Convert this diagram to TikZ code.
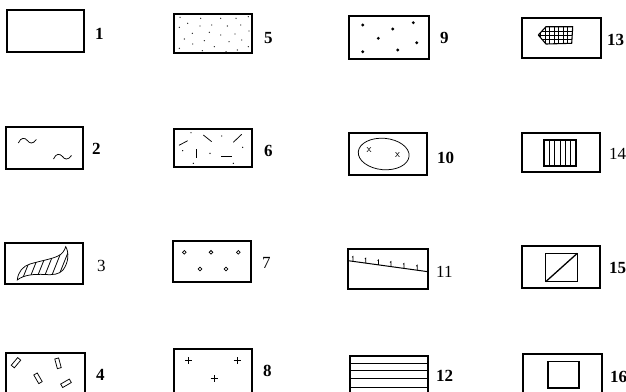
\documentclass[tikz,border=0pt]{standalone}
\usepackage{fontspec}
\setmainfont{Liberation Serif}
\usetikzlibrary{calc}
\begin{document}
\begin{tikzpicture}[x=1pt,y=-1pt,
  box/.style={line width=1.05pt},
  thin/.style={line width=0.75pt},
  lab/.style={anchor=west,inner sep=0pt,font=\fontsize{17}{17}\selectfont\bfseries},
  labr/.style={anchor=west,inner sep=0pt,font=\fontsize{17}{17}\selectfont},
  fdot/.style={fill=black!85},
]
\useasboundingbox (0,0) rectangle (626,391);
\clip (0,0) rectangle (626,391);
% ---------- row 1 ----------
\draw[box] (7,10) rectangle (84,52);
\node[lab] (l1) at (95,34) {1};
\draw[box] (174,14) rectangle (252,53);
\foreach \p in {(180,17.3),(200.7,18.3),(220.7,18.3),(236,18.3),(248.3,16.7),(187.7,23.3),(200,26),(211.7,25),(227.3,26),(240.7,25),(179.3,27.3),(192.3,33.3),(209.3,32.3),(220.7,35),(235,34),(249,31),(184.3,39),(204.3,40.7),(229,41.7),(241.7,40),(192.7,44),(214.3,46.7),(179.3,48.3),(202.3,50.7),(226,51.7),(237.3,50),(248.3,46.7)}
  \fill[fdot] \p circle[radius=0.7];
\node[lab] (l5) at (264,38) {5};
\draw[box] (349,16) rectangle (429,59);
\foreach \p in {(362.7,25),(392.7,29),(413.3,22.7),(378.3,38.3),(416.7,42.7),(362.7,51.7),(397.7,50)}
  \fill \p circle[radius=1.6];
\node[lab] (l9) at (440,38) {9};
\draw[box] (522,18) rectangle (601,58);
\begin{scope}
  \clip (538.3,35) -- (546,26.7) -- (572.7,26.7) -- (571.7,43.3) -- (546,44) -- cycle;
  \foreach \i in {0,...,7} \draw[thin] (536+\i*4.5,20) -- (536+\i*4.5,50);
  \foreach \j in {0,...,5} \draw[thin] (530,26.7+\j*4.3) -- (580,26.7+\j*4.3);
\end{scope}
\draw[line width=1.1pt,line join=round] (538.3,35) -- (546,26.7) -- (572.7,26.7) -- (571.7,43.3) -- (546,44) -- cycle;
\node[lab] (l13) at (607,40) {13};
% ---------- row 2 ----------
\draw[box] (6,127) rectangle (83,169);
\draw[thin] (18.3,143) .. controls (21,137) and (25,137.5) .. (27.3,140.5) .. controls (29.5,143.5) and (33,144.5) .. (36.3,139.5);
\draw[thin] (53.5,159) .. controls (56,153) and (60,153.5) .. (62.5,156.5) .. controls (64.5,159.5) and (68,160.5) .. (71.5,155.5);
\node[lab] (l2) at (92,149) {2};
\draw[box] (174,129) rectangle (252,167);
\draw[thin] (179,145.3) -- (187.7,140.7);
\draw[thin] (203.3,135) -- (211.7,141.7);
\draw[thin] (233.3,142.3) -- (241.7,134.3);
\draw[thin] (196,149.3) -- (196,158.3);
\draw[thin] (221,156.7) -- (231.7,156.7);
\foreach \p in {(191,132.7),(221.7,136),(182.7,150.7),(210,153.3),(242.7,147.3),(193.3,163.3),(233.3,163.3)}
  \fill \p circle[radius=0.7];
\node[lab] (l6) at (264,151) {6};
\draw[box] (349,133) rectangle (427,175);
\draw[thin,rotate around={-5:(383.7,154)}] (383.7,154) ellipse[x radius=25.5,y radius=15.7];
\node[inner sep=0pt,font=\fontsize{11}{11}\selectfont\sffamily] (x1) at (369,150) {x};
\node[inner sep=0pt,font=\fontsize{11}{11}\selectfont\sffamily] (x2) at (397.7,155) {x};
\node[lab] (l10) at (437,158) {10};
\draw[box] (522,133) rectangle (600,172);
\draw[box] (544,140) rectangle (576,166);
\foreach \i in {1,...,5} \draw[thin] (544+\i*5.33,140) -- (544+\i*5.33,166);
\node[labr] (l14) at (609,154) {14};
% ---------- row 3 ----------
\draw[box] (5,243) rectangle (83,284);
\def\leaf{(17.3,280) .. controls (18,272) and (23,266) .. (30,264) .. controls (40,261) and (52,259) .. (58,256) .. controls (62,254) and (64.5,251) .. (65.7,246.7) .. controls (69,252) and (69,262) .. (63,270) .. controls (59,274.5) and (53,275) .. (45,274.5) .. controls (35,274) and (24,274.5) .. (17.3,280) -- cycle}
\begin{scope}
  \clip \leaf;
  \foreach \i in {0,...,9} \draw[thin] (4+\i*7,290) -- (24+\i*7,240);
\end{scope}
\draw[thin] \leaf;
\node[labr] (l3) at (97,266) {3};
\draw[box] (173,241) rectangle (251,282);
\foreach \p in {(184.3,252.3),(211,252.3),(238.3,252.3),(200,269),(226,269)}
  \draw[thin] \p circle[radius=1.8];
\node[labr] (l7) at (262,263) {7};
\draw[box] (348,249) rectangle (428,289);
\coordinate (a11) at (348.3,260.7);
\coordinate (b11) at (428,271.7);
\draw[line width=1pt] (a11) -- (b11);
\foreach \t in {0.06,0.22,0.38,0.535,0.70,0.865}
  \draw[thin] ($(a11)!\t!(b11)$) -- ++(0,-5) -- ++(-1,0.8);
\node[labr] (l11) at (436,272) {11};
\draw[box] (522,246) rectangle (600,288);
\draw[line width=1.5pt] (545.7,253.3) rectangle (577.3,281.7);
\draw[line width=1.3pt] (545.7,281.7) -- (577.3,253.3);
\node[lab] (l15) at (609,268) {15};
% ---------- row 4 ----------
\draw[box] (6,353) rectangle (85,395);
\draw[thin,rotate around={50:(16,362.7)}] (11,360.7) rectangle (21,364.7);
\draw[thin,rotate around={-75:(58,363.3)}] (53,361.3) rectangle (63,365.3);
\draw[thin,rotate around={-60:(38,378.3)}] (33,376.3) rectangle (43,380.3);
\draw[thin,rotate around={30:(66,383.3)}] (61,381.3) rectangle (71,385.3);
\node[lab] (l4) at (96,375) {4};
\draw[box] (174,349) rectangle (252,395);
\foreach \p in {(188.8,360.7),(237.2,360.7),(214,378.3)}
  \draw[thin] \p ++(-3.5,0) -- ++(7,0) \p ++(0,-3.5) -- ++(0,7);
\node[lab] (l8) at (263,371) {8};
\draw[box] (350,356) rectangle (428,395);
\foreach \y in {363,370.5,378.5,387} \draw[thin] (350,\y) -- (428,\y);
\node[lab] (l12) at (436,375.7) {12};
\draw[box] (523,354) rectangle (602,395);
\draw[line width=1.4pt] (548,361.7) rectangle (579,388);
\node[lab] (l16) at (610,376.7) {16};
\end{tikzpicture}
\end{document}
